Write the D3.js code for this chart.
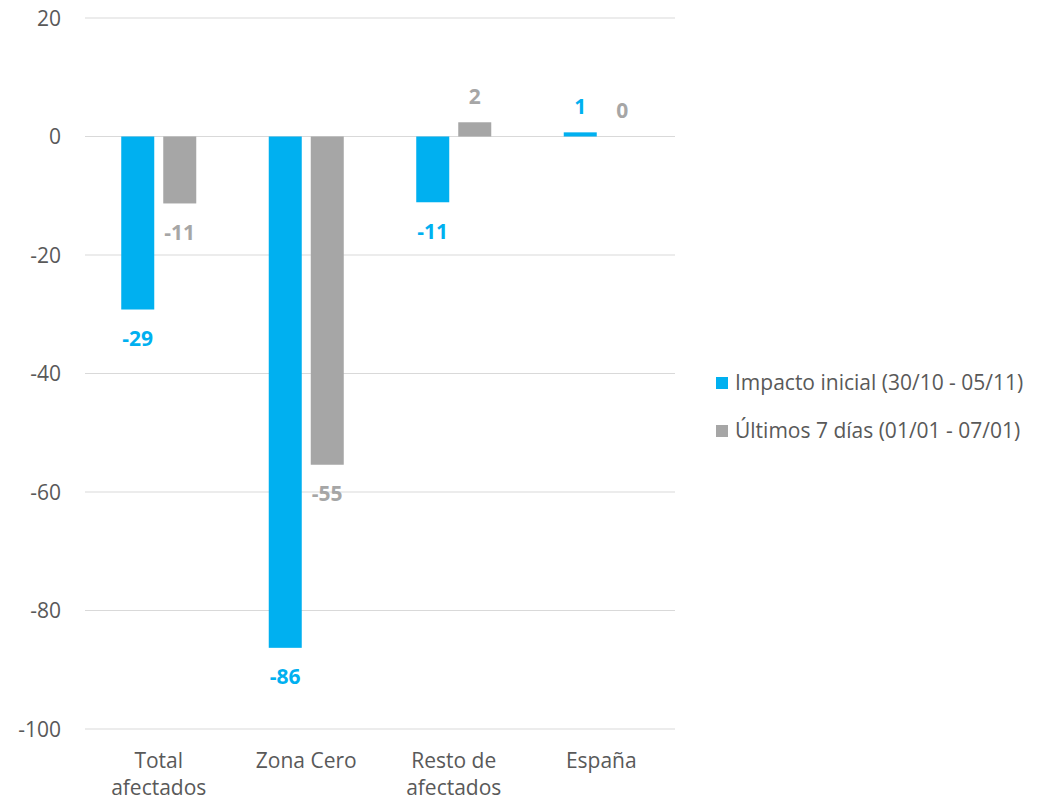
<!DOCTYPE html>
<html><head><meta charset="utf-8">
<script src="https://cdn.jsdelivr.net/npm/d3@7/dist/d3.min.js"></script>
<style>body{margin:0;background:#fff;} svg{display:block;font-family:"Open Sans",sans-serif;}</style>
</head><body>
<svg id="c" width="1052" height="801"></svg>
<script>
const categories = [["Total","afectados"],["Zona Cero"],["Resto de","afectados"],["España"]];
const seriesNames = ["Impacto inicial (30/10 - 05/11)", "Últimos 7 días (01/01 - 07/01)"];
const seriesColors = ["#00B0F0", "#A6A6A6"];
const impactoInicial = [-29.2, -86.3, -11.1, 0.7];
const ultimos7 = [-11.3, -55.4, 2.4, 0.0];
const yTicks = [20, 0, -20, -40, -60, -80, -100];

const fmt = v => String(Math.round(v)).replace("\u2212", "-");
const svg = d3.select("#c");
const catKeys = categories.map(c => c.join(" "));
const x0 = d3.scaleBand().domain(catKeys).range([85, 675]);
const x1 = d3.scaleBand().domain([0,1]).range([0, x0.bandwidth()]).paddingInner(9/42).paddingOuter(0.863);
const y = d3.scaleLinear().domain([-100, 20]).range([729, 18]);

// grid
svg.append("g").selectAll("line").data(yTicks).join("line")
  .attr("x1", 85).attr("x2", 675)
  .attr("y1", d => y(d)).attr("y2", d => y(d))
  .attr("stroke", "#D9D9D9").attr("stroke-width", 1);

// y axis labels
const yAxis = d3.axisLeft(y).tickValues(yTicks).tickSize(0).tickPadding(0).tickFormat(fmt);
const ya = svg.append("g").attr("transform", "translate(61,0)").call(yAxis);
ya.select(".domain").remove();
ya.selectAll("text").attr("font-family", "Open Sans").attr("font-size", 21).attr("fill", "#595959").attr("dy", "0.35em");

const data = [impactoInicial, ultimos7];
data.forEach((vals, si) => {
  const g = svg.append("g");
  g.selectAll("rect").data(vals).join("rect")
    .attr("x", (d, i) => x0(catKeys[i]) + x1(si))
    .attr("width", x1.bandwidth())
    .attr("y", d => y(Math.max(0, d)))
    .attr("height", d => Math.abs(y(d) - y(0)))
    .attr("fill", seriesColors[si]);
  g.selectAll("text").data(vals).join("text")
    .attr("x", (d, i) => x0(catKeys[i]) + x1(si) + x1.bandwidth()/2)
    .attr("y", d => d < 0 ? y(d) + 29 : y(d) - 26)
    .attr("dy", "0.35em")
    .attr("text-anchor", "middle")
    .attr("font-size", 21).attr("font-weight", "bold")
    .attr("fill", seriesColors[si])
    .text(d => fmt(d));
});

// category labels
const cg = svg.append("g");
categories.forEach((lines, i) => {
  const cx = x0(catKeys[i]) + x0.bandwidth()/2;
  const t = cg.append("text").attr("text-anchor", "middle")
    .attr("font-size", 21).attr("fill", "#595959")
    .attr("x", cx).attr("y", 768);
  lines.forEach((l, j) => t.append("tspan").attr("x", cx).attr("dy", j === 0 ? 0 : 27).text(l));
});

// legend
const lg = svg.append("g");
seriesNames.forEach((n, i) => {
  lg.append("rect").attr("x", 716).attr("y", 377 + i*48).attr("width", 12).attr("height", 12).attr("fill", seriesColors[i]);
  lg.append("text").attr("x", 735).attr("y", 390 + i*48).attr("font-size", 21).attr("fill", "#595959").text(n);
});
</script>
</body></html>
